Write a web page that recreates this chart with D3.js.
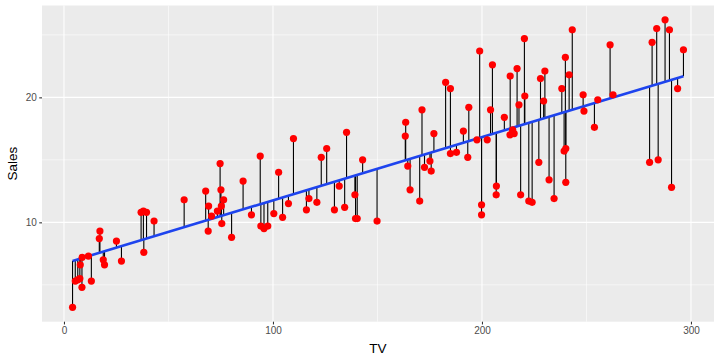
<!DOCTYPE html>
<html>
<head>
<meta charset="utf-8">
<script src="https://cdn.jsdelivr.net/npm/d3@7"></script>
<style>
  html, body { margin: 0; padding: 0; background: #fff; }
  svg { display: block; }
</style>
</head>
<body>
<svg id="chart" width="720" height="360"></svg>
<script>
// TV advertising budget (x) and Sales (y)
const tv = [
  4.1, 5.4, 6.6, 7.6, 7.8, 8.7, 8.6, 11.7, 13.1, 17.2, 16.9, 18.8, 19.4, 25.1, 27.5,
  36.9, 38.0, 39.5, 38.2, 43.1, 57.5, 67.8, 69.2, 69.0, 70.6, 73.4, 74.7, 75.1, 75.3,
  76.4, 75.5, 80.2, 85.7, 89.7, 93.9, 94.2, 95.7, 97.5, 100.4, 102.7, 104.6, 107.4,
  109.8, 116.0, 117.2, 121.0, 123.1, 125.7, 129.4, 131.7, 134.3, 135.2, 139.2, 139.5,
  140.3, 142.9, 149.8, 163.5, 163.3, 164.5, 165.6, 170.2, 171.3, 172.5, 175.1, 175.7,
  177.0, 182.6, 184.9, 184.9, 187.8, 191.1, 193.2, 193.7, 197.6, 198.9, 199.8, 199.8,
  202.5, 204.1, 205.0, 206.9, 206.8, 210.7, 213.5, 213.4, 214.7, 215.4, 216.8, 217.7,
  218.5, 220.3, 220.5, 222.4, 224.0, 227.2, 228.0, 230.1, 229.5, 232.1, 234.5, 238.2,
  239.9, 239.3, 240.1, 240.1, 241.7, 243.2, 248.4, 248.8, 253.8, 255.4, 261.3, 262.7,
  280.2, 281.4, 283.6, 284.3, 287.6, 289.7, 290.7, 293.6, 296.4
];
const sales = [
  3.2, 5.3, 5.4, 5.5, 6.6, 7.2, 4.8, 7.3, 5.3, 9.3, 8.7, 7.0, 6.6, 8.5, 6.9,
  10.8, 10.9, 10.8, 7.6, 10.1, 11.8, 12.5, 11.3, 9.3, 10.5, 10.9, 14.7, 12.6, 11.3,
  11.8, 9.9, 8.8, 13.3, 10.6, 15.3, 9.7, 9.5, 9.7, 10.7, 14.0, 10.4, 11.5,
  16.7, 11.0, 11.9, 11.6, 15.2, 15.9, 11.0, 12.9, 11.2, 17.2, 12.2, 10.3,
  10.3, 15.0, 10.1, 18.0, 16.9, 14.5, 12.6, 11.7, 19.0, 14.4, 14.9, 14.1,
  17.1, 21.2, 20.7, 15.5, 15.6, 17.3, 15.2, 19.2, 16.6, 23.7, 11.4, 10.6,
  16.6, 19.0, 22.6, 12.9, 12.2, 18.4, 21.7, 17.0, 17.4, 17.1, 22.3, 19.4,
  12.2, 24.7, 20.1, 11.7, 11.6, 14.8, 21.5, 22.1, 19.7, 13.4, 11.9, 20.7,
  23.2, 15.7, 15.9, 13.2, 21.8, 25.4, 20.2, 18.9, 17.6, 19.8, 24.2, 20.2,
  14.8, 24.4, 25.5, 15.0, 26.2, 25.4, 12.8, 20.7, 23.8
];
const xTicks = [0, 100, 200, 300];
const yTicks = [10, 20];
const xMinor = [50, 150, 250];
const yMinor = [5, 15, 25];

const data = tv.map((t, i) => ({ x: t, y: sales[i] }));

// least squares fit
const mx = d3.mean(tv), my = d3.mean(sales);
const slope = d3.sum(data, d => (d.x - mx) * (d.y - my)) / d3.sum(data, d => (d.x - mx) ** 2);
const intercept = my - slope * mx;
const fit = x => intercept + slope * x;

const svg = d3.select("#chart");
const W = 720, H = 360;
const panel = { left: 42, right: 714, top: 5.5, bottom: 321.7 };

const [x0, x1] = d3.extent(tv);
const xPad = (x1 - x0) * 0.05;
const [y0, y1] = d3.extent(sales);
const yPad = (y1 - y0) * 0.05;

const x = d3.scaleLinear().domain([x0 - xPad, x1 + xPad]).range([panel.left, panel.right]);
const y = d3.scaleLinear().domain([y0 - yPad, y1 + yPad]).range([panel.bottom, panel.top]);

// panel background
svg.append("rect")
  .attr("x", panel.left).attr("y", panel.top)
  .attr("width", panel.right - panel.left).attr("height", panel.bottom - panel.top)
  .attr("fill", "#EBEBEB");

const grid = svg.append("g");
grid.selectAll(".xminor").data(xMinor).join("line")
  .attr("x1", d => x(d)).attr("x2", d => x(d))
  .attr("y1", panel.top).attr("y2", panel.bottom)
  .attr("stroke", "#fff").attr("stroke-width", 0.55);
grid.selectAll(".yminor").data(yMinor).join("line")
  .attr("y1", d => y(d)).attr("y2", d => y(d))
  .attr("x1", panel.left).attr("x2", panel.right)
  .attr("stroke", "#fff").attr("stroke-width", 0.55);
grid.selectAll(".xmajor").data(xTicks).join("line")
  .attr("x1", d => x(d)).attr("x2", d => x(d))
  .attr("y1", panel.top).attr("y2", panel.bottom)
  .attr("stroke", "#fff").attr("stroke-width", 1.1);
grid.selectAll(".ymajor").data(yTicks).join("line")
  .attr("y1", d => y(d)).attr("y2", d => y(d))
  .attr("x1", panel.left).attr("x2", panel.right)
  .attr("stroke", "#fff").attr("stroke-width", 1.1);

// residual stems
svg.append("g").selectAll("line").data(data).join("line")
  .attr("x1", d => x(d.x)).attr("x2", d => x(d.x))
  .attr("y1", d => y(d.y)).attr("y2", d => y(fit(d.x)))
  .attr("stroke", "#000").attr("stroke-width", 1.1);

// regression line
svg.append("path")
  .datum([x0, x1])
  .attr("d", d3.line().x(d => x(d)).y(d => y(fit(d))))
  .attr("stroke", "#1E44EE").attr("stroke-width", 2.6).attr("fill", "none");

// points
svg.append("g").selectAll("circle").data(data).join("circle")
  .attr("cx", d => x(d.x)).attr("cy", d => y(d.y))
  .attr("r", 3.6).attr("fill", "#FF0000");

// axes
const xAxis = d3.axisBottom(x).tickValues(xTicks).tickSize(2.75).tickPadding(2.5);
const gx = svg.append("g").attr("transform", `translate(0,${panel.bottom})`).call(xAxis);
const yAxis = d3.axisLeft(y).tickValues(yTicks).tickSize(2.75).tickPadding(2.5);
const gy = svg.append("g").attr("transform", `translate(${panel.left},0)`).call(yAxis);
[gx, gy].forEach(g => {
  g.select(".domain").remove();
  g.selectAll(".tick line").attr("stroke", "#333333").attr("stroke-width", 1.1);
  g.selectAll(".tick text").attr("fill", "#4D4D4D")
    .style("font-family", "'Liberation Sans', Arial, sans-serif").style("font-size", "10px");
});

// axis titles
svg.append("text")
  .attr("x", (panel.left + panel.right) / 2).attr("y", 353)
  .attr("text-anchor", "middle")
  .style("font-family", "'Liberation Sans', Arial, sans-serif").style("font-size", "13.5px")
  .attr("fill", "#000").text("TV");
svg.append("text")
  .attr("transform", `translate(17,${(panel.top + panel.bottom) / 2}) rotate(-90)`)
  .attr("text-anchor", "middle")
  .style("font-family", "'Liberation Sans', Arial, sans-serif").style("font-size", "13.5px")
  .attr("fill", "#000").text("Sales");
</script>
</body>
</html>
